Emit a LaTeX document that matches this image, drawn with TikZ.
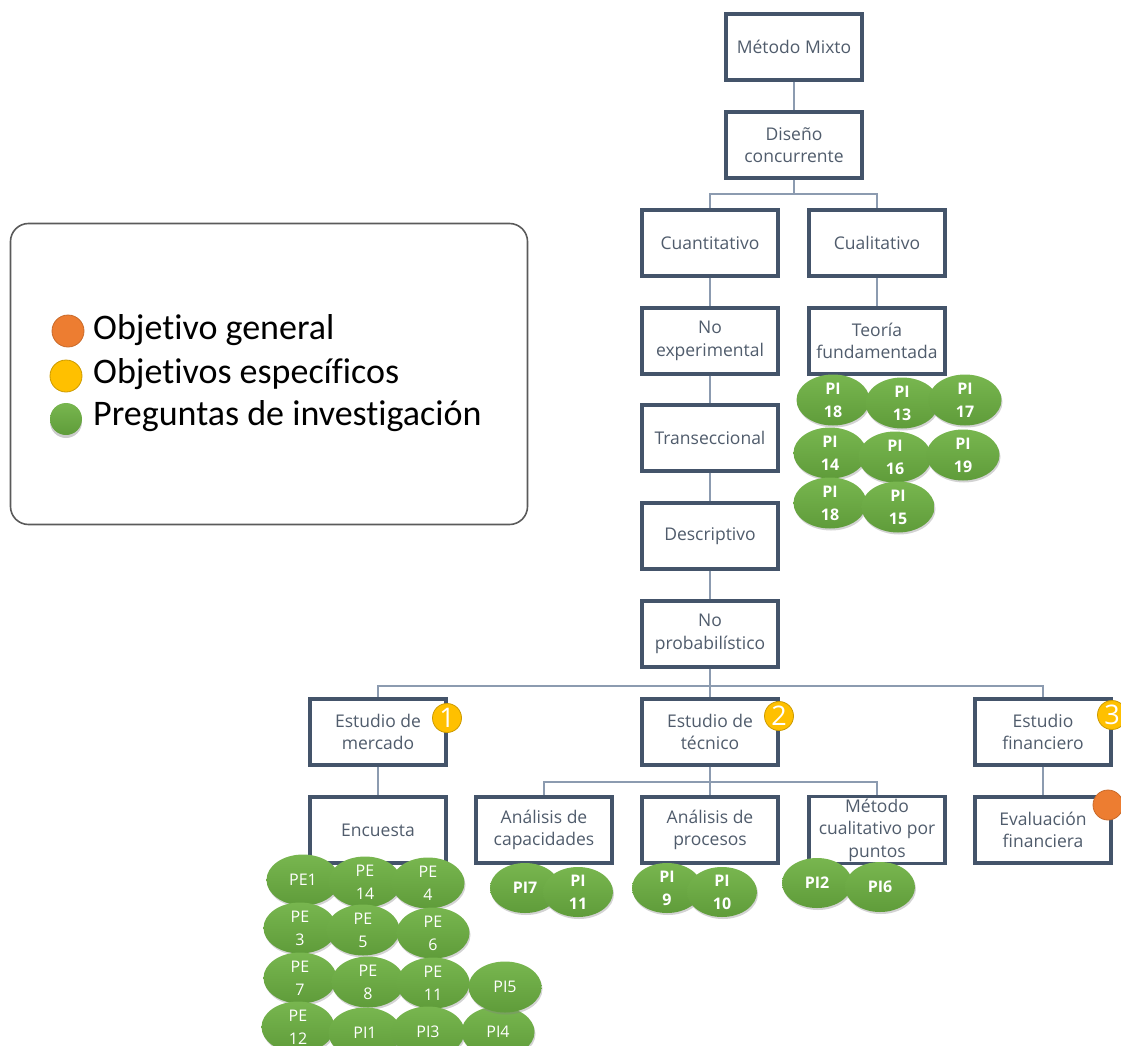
\documentclass[tikz,border=0pt]{standalone}
\usepackage{fontspec}
\setmainfont{Open Sans}
\newfontfamily\legendfont[Ligatures=NoCommon]{Carlito}
\usetikzlibrary{shapes.geometric,shadows}

\definecolor{boxline}{HTML}{44546A}
\definecolor{boxtext}{HTML}{505C6C}
\definecolor{wirecol}{HTML}{8C9BB0}
\definecolor{leaftop}{HTML}{78B64F}
\definecolor{leafbot}{HTML}{5F9C3A}
\definecolor{goal}{HTML}{ED7D31}
\definecolor{subgoal}{HTML}{FFC000}
\definecolor{legendline}{HTML}{5A5A5A}

\begin{document}
\begin{tikzpicture}[x=1pt,y=-1pt,
  stage/.style={draw=boxline, line width=3.2pt, fill=white,
    minimum width=136pt, minimum height=66pt, inner sep=2pt,
    align=center, text=boxtext, font=\fontsize{17.5}{22.5}\selectfont},
  wire/.style={draw=wirecol, line width=2pt},
  qbase/.style={ellipse, minimum width=73pt, minimum height=51pt, inner sep=0pt,
    top color=leaftop, bottom color=leafbot, draw=none, text=white, align=center,
    drop shadow={opacity=0.35, shadow xshift=1pt, shadow yshift=-2pt}},
  qb/.style={qbase, font=\bfseries\fontsize{16}{23}\selectfont},
  qr/.style={qbase, font=\fontsize{16}{23}\selectfont},
  badge/.style={circle, fill=subgoal, draw=subgoal!80!black, line width=0.8pt,
    minimum size=29pt, inner sep=0pt, text=white, font=\fontsize{27}{27}\selectfont},
  dotmark/.style={circle, minimum size=32pt, inner sep=0pt, line width=0.8pt},
  legtext/.style={anchor=west, inner sep=0pt, font=\legendfont\fontsize{36}{36}\selectfont}
]
\useasboundingbox (0,0) rectangle (1121,1046);

% legend
\node[draw=legendline, line width=1.6pt, rounded corners=18pt,
      minimum width=517pt, minimum height=301pt] (legend) at (269,374) {};
\node[dotmark, fill=goal, draw=goal!85!black] (lg1) at (68,331) {};
\node[dotmark, fill=subgoal, draw=subgoal!80!black] (lg2) at (66,376) {};
\node[dotmark, top color=leaftop, bottom color=leafbot, draw=none,
      drop shadow={opacity=0.4, shadow xshift=0pt, shadow yshift=-3pt}] (lg3) at (66,419) {};
\node[legtext] (lt1) at (93,330) {Objetivo general};
\node[legtext] (lt2) at (93,374) {Objetivos específicos};
\node[legtext] (lt3) at (93,416) {Preguntas de investigación};

% method tree
\node[stage] (mm)   at (794,47)   {Método Mixto};
\node[stage] (dc)   at (794,145)  {Diseño\\concurrente};
\node[stage] (cuan) at (710,243)  {Cuantitativo};
\node[stage] (cual) at (877,243)  {Cualitativo};
\node[stage] (nexp) at (710,341)  {No\\experimental};
\node[stage] (teo)  at (877,341)  {Teoría\\fundamentada};
\node[stage] (tran) at (710,438)  {Transeccional};
\node[stage] (desc) at (710,536)  {Descriptivo};
\node[stage] (nprob) at (710,634) {No\\probabilístico};
\node[stage] (merc) at (378,732)  {Estudio de\\mercado};
\node[stage] (tec)  at (710,732)  {Estudio de\\técnico};
\node[stage] (fin)  at (1043,732) {Estudio\\financiero};
\node[stage] (enc)  at (378,830)  {Encuesta};
\node[stage] (cap)  at (544,830)  {Análisis de\\capacidades};
\node[stage] (proc) at (710,830)  {Análisis de\\procesos};
\node[stage, fill=none] (pts)  at (877,830)  {Método\\cualitativo por\\puntos};
\node[stage] (eval) at (1043,830) {Evaluación\\financiera};

% connectors
\coordinate (busA) at (794,194);
\coordinate (busB) at (710,686);
\coordinate (busC) at (710,782);
\draw[wire] (mm) -- (dc);
\draw[wire] (dc) -- (busA) -| (cuan);
\draw[wire] (busA) -| (cual);
\draw[wire] (cuan) -- (nexp);
\draw[wire] (cual) -- (teo);
\draw[wire] (nexp) -- (tran);
\draw[wire] (tran) -- (desc);
\draw[wire] (desc) -- (nprob);
\draw[wire] (nprob) -- (busB) -| (merc);
\draw[wire] (busB) -| (fin);
\draw[wire] (busB) -- (tec);
\draw[wire] (merc) -- (enc);
\draw[wire] (tec) -- (busC) -| (cap);
\draw[wire] (busC) -| (pts);
\draw[wire] (busC) -- (proc);
\draw[wire] (fin) -- (eval);

% objective markers
\node[badge] (b1) at (447,718) {1};
\node[badge] (b2) at (779,716) {2};
\node[badge] (b3) at (1112,715) {3};
\node[dotmark, fill=goal, draw=goal!85!black, minimum size=30pt] (og) at (1108,805) {};

% research questions: grounded theory
\node[qb] (t1) at (833,400) {PI\\18};
\node[qb] (t2) at (902,403) {PI\\13};
\node[qb] (t3) at (965,400) {PI\\17};
\node[qb] (t4) at (830,453) {PI\\14};
\node[qb] (t5) at (895,457) {PI\\16};
\node[qb] (t6) at (963,455) {PI\\19};
\node[qb] (t7) at (830,503) {PI\\18};
\node[qb] (t8) at (898,507) {PI\\15};

% research questions: survey
\node[qr] (e1)  at (303,880)  {PE1};
\node[qr] (e2)  at (365,882)  {PE\\14};
\node[qr] (e3)  at (428,883)  {PE\\4};
\node[qr] (e4)  at (300,928)  {PE\\3};
\node[qr] (e5)  at (363,930)  {PE\\5};
\node[qr] (e6)  at (433,933)  {PE\\6};
\node[qr] (e7)  at (300,978)  {PE\\7};
\node[qr] (e8)  at (368,982)  {PE\\8};
\node[qr] (e9)  at (433,983)  {PE\\11};
\node[qr] (e10) at (298,1027) {PE\\12};
\node[qr] (e11) at (365,1033) {PI1};
\node[qr] (e12) at (428,1032) {PI3};
\node[qr] (e13) at (498,1032) {PI4};
\node[qr] (e14) at (505,987)  {PI5};

% research questions: technical study
\node[qb, minimum width=70pt, minimum height=50pt] (c1) at (525,888) {PI7};
\node[qb, minimum width=70pt, minimum height=50pt] (c2) at (578,892) {PI\\11};
\node[qb, minimum width=70pt, minimum height=50pt] (c3) at (667,888) {PI\\9};
\node[qb, minimum width=70pt, minimum height=50pt] (c4) at (722,892) {PI\\10};
\node[qb, minimum width=70pt, minimum height=50pt] (c5) at (817,883) {PI2};
\node[qb, minimum width=70pt, minimum height=50pt] (c6) at (880,887) {PI6};
\end{tikzpicture}
\end{document}
